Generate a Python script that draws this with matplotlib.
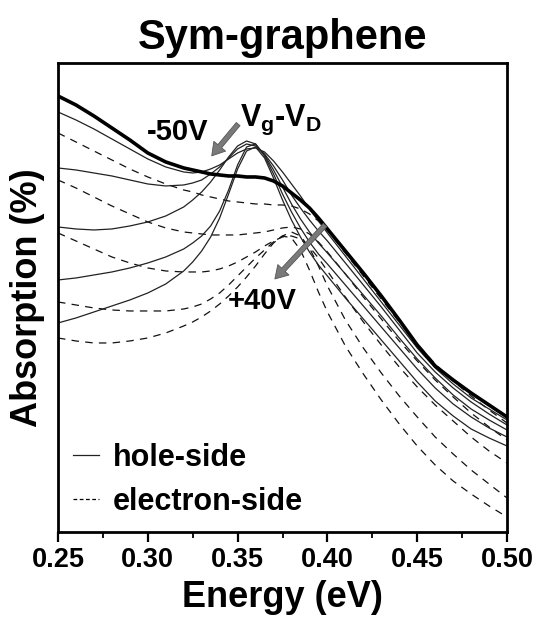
import matplotlib
matplotlib.use('Agg')
import matplotlib.pyplot as plt
from matplotlib.lines import Line2D
from matplotlib.ticker import MultipleLocator

# ================= DATA =================
energy = [0.25, 0.26, 0.27, 0.28, 0.29, 0.30, 0.31, 0.32, 0.325, 0.33, 0.335, 0.34,
          0.345, 0.35, 0.355, 0.36, 0.365, 0.37, 0.375, 0.38, 0.385, 0.39, 0.395, 0.40,
          0.41, 0.42, 0.43, 0.44, 0.45, 0.46, 0.47, 0.48, 0.49, 0.50]

# Dirac point (thick curve)
dirac = [4.36, 4.27, 4.16, 4.04, 3.92, 3.79, 3.70, 3.64, 3.62, 3.60, 3.58, 3.57,
         3.56, 3.56, 3.55, 3.55, 3.54, 3.51, 3.46, 3.39, 3.32, 3.24, 3.14, 3.03,
         2.81, 2.59, 2.36, 2.12, 1.87, 1.66, 1.52, 1.39, 1.27, 1.15]

# hole-side spectra
hole_1 = [4.20, 4.12, 4.03, 3.93, 3.83, 3.73, 3.65, 3.60, 3.59, 3.60, 3.63, 3.67,
          3.73, 3.79, 3.83, 3.84, 3.80, 3.71, 3.60, 3.48, 3.36, 3.23, 3.11, 2.99,
          2.76, 2.53, 2.30, 2.07, 1.84, 1.64, 1.48, 1.34, 1.23, 1.12]
hole_2 = [3.64, 3.62, 3.59, 3.56, 3.52, 3.48, 3.46, 3.47, 3.49, 3.52, 3.58, 3.65,
          3.74, 3.83, 3.88, 3.86, 3.78, 3.66, 3.52, 3.37, 3.24, 3.12, 3.01, 2.91,
          2.69, 2.47, 2.25, 2.02, 1.79, 1.60, 1.44, 1.30, 1.18, 1.07]
hole_3 = [3.05, 3.03, 3.02, 3.03, 3.06, 3.10, 3.16, 3.25, 3.32, 3.40, 3.50, 3.62,
          3.75, 3.86, 3.91, 3.88, 3.77, 3.62, 3.45, 3.28, 3.13, 3.00, 2.89, 2.79,
          2.58, 2.37, 2.16, 1.94, 1.73, 1.54, 1.37, 1.23, 1.12, 1.02]
hole_4 = [2.52, 2.54, 2.57, 2.60, 2.64, 2.69, 2.75, 2.83, 2.89, 2.96, 3.06, 3.21,
          3.42, 3.67, 3.85, 3.88, 3.76, 3.58, 3.38, 3.20, 3.04, 2.90, 2.78, 2.68,
          2.47, 2.26, 2.05, 1.84, 1.63, 1.44, 1.28, 1.15, 1.04, 0.95]
hole_5 = [2.09, 2.14, 2.20, 2.26, 2.32, 2.39, 2.48, 2.61, 2.70, 2.81, 2.95, 3.14,
          3.38, 3.63, 3.81, 3.85, 3.74, 3.54, 3.32, 3.12, 2.95, 2.80, 2.67, 2.56,
          2.34, 2.13, 1.92, 1.71, 1.50, 1.31, 1.16, 1.03, 0.94, 0.86]

# electron-side spectra
elec_1 = [3.99, 3.90, 3.81, 3.72, 3.63, 3.55, 3.48, 3.42, 3.40, 3.37, 3.35, 3.33,
          3.31, 3.30, 3.29, 3.28, 3.28, 3.27, 3.27, 3.26, 3.23, 3.18, 3.11, 3.02,
          2.79, 2.56, 2.33, 2.10, 1.88, 1.68, 1.51, 1.36, 1.22, 1.09]
elec_2 = [3.52, 3.44, 3.35, 3.26, 3.18, 3.10, 3.04, 3.00, 2.99, 2.98, 2.97, 2.97,
          2.97, 2.97, 2.98, 2.99, 3.00, 3.02, 3.04, 3.05, 3.03, 2.98, 2.90, 2.80,
          2.58, 2.35, 2.13, 1.91, 1.71, 1.52, 1.35, 1.19, 1.05, 0.92]
elec_3 = [2.99, 2.91, 2.83, 2.75, 2.69, 2.64, 2.61, 2.60, 2.60, 2.60, 2.61, 2.63,
          2.66, 2.70, 2.75, 2.80, 2.86, 2.91, 2.95, 2.96, 2.93, 2.85, 2.74, 2.61,
          2.35, 2.10, 1.87, 1.65, 1.45, 1.27, 1.11, 0.95, 0.81, 0.69]
elec_4 = [2.30, 2.27, 2.24, 2.22, 2.21, 2.21, 2.21, 2.23, 2.25, 2.28, 2.33, 2.39,
          2.47, 2.56, 2.65, 2.74, 2.82, 2.90, 2.96, 3.00, 2.96, 2.84, 2.66, 2.46,
          2.12, 1.84, 1.59, 1.36, 1.15, 0.95, 0.78, 0.62, 0.48, 0.34]
elec_5 = [1.94, 1.91, 1.89, 1.89, 1.91, 1.94, 1.99, 2.06, 2.10, 2.15, 2.21, 2.28,
          2.36, 2.45, 2.55, 2.66, 2.78, 2.89, 2.96, 2.94, 2.82, 2.62, 2.40, 2.20,
          1.86, 1.58, 1.32, 1.08, 0.86, 0.67, 0.51, 0.38, 0.26, 0.15]

hole_curves = [hole_1, hole_2, hole_3, hole_4, hole_5]
elec_curves = [elec_1, elec_2, elec_3, elec_4, elec_5]
x_ticks = [0.25, 0.30, 0.35, 0.40, 0.45, 0.50]
# =========================================

plt.rcParams['font.family'] = ['Liberation Sans', 'DejaVu Sans']
plt.rcParams['font.weight'] = 'bold'
plt.rcParams['mathtext.fontset'] = 'custom'
plt.rcParams['mathtext.rm'] = 'Liberation Sans:bold'

fig = plt.figure(figsize=(5.38, 6.18), dpi=100)
ax = fig.add_axes([0.1078, 0.1392, 0.8346, 0.7589])

for y in elec_curves:
    ax.plot(energy, y, color='#111111', lw=0.9, linestyle=(0, (6, 5)))
for y in hole_curves:
    ax.plot(energy, y, color='#222222', lw=0.9, linestyle='-')
ax.plot(energy, dirac, color='black', lw=2.6, solid_capstyle='round')

ax.set_xlim(0.25, 0.50)
ax.set_ylim(0, 4.69)
ax.set_xticks(x_ticks)
ax.set_xticklabels(['%.2f' % v for v in x_ticks])
ax.xaxis.set_minor_locator(MultipleLocator(0.025))
ax.set_yticks([])
ax.tick_params(axis='x', which='major', direction='out', length=7, width=1.6,
               labelsize=19.5, pad=4)
ax.tick_params(axis='x', which='minor', direction='out', length=4, width=1.3)
for s in ax.spines.values():
    s.set_linewidth(2.0)

ax.set_xlabel('Energy (eV)', fontsize=26, fontweight='bold', labelpad=5)
ax.set_ylabel('Absorption (%)', fontsize=26, fontweight='bold', labelpad=9)
ax.set_title('Sym-graphene', fontsize=30, fontweight='bold', pad=10)

# annotations
arrow_kw = dict(arrowstyle='simple,head_length=0.9,head_width=1.1,tail_width=0.35',
                fc='#7a7a7a', ec='#555555', lw=0.6)
ax.annotate('', xy=(0.3346, 3.74), xytext=(0.3513, 4.10), arrowprops=arrow_kw)
ax.annotate('', xy=(0.3697, 2.51), xytext=(0.3998, 3.09), arrowprops=arrow_kw)
ax.text(0.3168, 4.00, '-50V', fontsize=21, fontweight='bold', ha='center', va='center')
ax.text(0.3515, 4.06, r'V$_\mathrm{g}$-V$_\mathrm{D}$', fontsize=22, fontweight='bold',
        ha='left', va='baseline')
ax.text(0.3636, 2.31, '+40V', fontsize=21, fontweight='bold', ha='center', va='center')

handles = [Line2D([0], [0], color='#222222', lw=0.9, linestyle='-'),
           Line2D([0], [0], color='black', lw=0.9, linestyle=(0, (3, 2)))]
ax.legend(handles, ['hole-side', 'electron-side'], loc='lower left', frameon=False,
          fontsize=22, handlelength=0.85, handletextpad=0.45, labelspacing=0.45,
          borderaxespad=0.1, bbox_to_anchor=(0.0, 0.0))

fig.savefig('out.png', dpi=100)
